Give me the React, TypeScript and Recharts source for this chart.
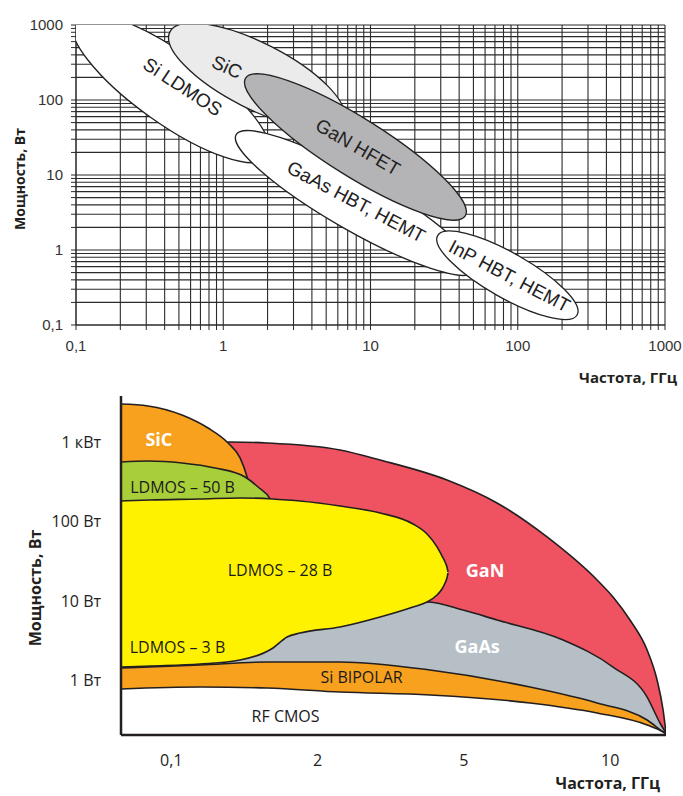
import React from "react"
import {
  ScatterChart,
  Scatter,
  ComposedChart,
  Area,
  XAxis,
  YAxis,
  CartesianGrid,
} from "recharts"

const INK = "#231f20"

// ---------- верхний график: области применения технологий (лог-лог) ----------
const decades = [0.1, 1, 10, 100, 1000]
const decadeLabels = ["0,1", "1", "10", "100", "1000"]
const steps = [1, 2, 3, 4, 5, 6, 7, 8, 9]
const logTicks = [
  ...decades.slice(0, -1).flatMap((d) => steps.map((k) => +(k * d).toPrecision(3))),
  1000,
]

// эллипс: центр, конец большой оси, конец малой оси, точка подписи (ГГц, Вт)
const siLdmos = [
  { x: 0.44, y: 145 },
  { x: 2.0, y: 17.5 },
  { x: 0.6, y: 360 },
  { x: 0.53, y: 150 },
]
const sic = [
  { x: 1.68, y: 209 },
  { x: 6.5, y: 54 },
  { x: 2.12, y: 515 },
  { x: 1.06, y: 275 },
]
const gaasHbt = [
  { x: 7.9, y: 4.24 },
  { x: 51, y: 0.52 },
  { x: 9.5, y: 9.1 },
  { x: 8.0, y: 4.4 },
]
const ganHfet = [
  { x: 7.9, y: 23.6 },
  { x: 44, y: 2.85 },
  { x: 10.1, y: 50 },
  { x: 8.2, y: 23.6 },
]
const inpHbt = [
  { x: 85, y: 0.46 },
  { x: 253, y: 0.136 },
  { x: 102, y: 0.83 },
  { x: 88, y: 0.45 },
]

// ---------- нижний график: схематичные области ----------
const bandTicks = [0, 1, 2, 3]
const bandFreqLabels = ["0,1", "2", "5", "10"]
const powerTicks = [0, 1, 2, 3] // lg(P, Вт)
const powerLabels = ["1 Вт", "10 Вт", "100 Вт", "1 кВт"]

const ganTop = [
  { x: -0.344, y: 2.967 },
  { x: 0.402, y: 3.005 },
  { x: 0.654, y: 2.993 },
  { x: 1.153, y: 2.904 },
  { x: 1.427, y: 2.778 },
  { x: 1.884, y: 2.526 },
  { x: 2.226, y: 2.237 },
  { x: 2.568, y: 1.809 },
  { x: 2.91, y: 1.267 },
  { x: 3.019, y: 1.053 },
  { x: 3.135, y: 0.763 },
  { x: 3.252, y: 0.385 },
  { x: 3.32, y: 0.008 },
  { x: 3.361, y: -0.37 },
  { x: 3.381, y: -0.66 },
]
const gaasTop = [
  { x: -0.344, y: 0.763 },
  { x: 0.88, y: 0.826 },
  { x: 1.563, y: 0.927 },
  { x: 1.748, y: 0.99 },
  { x: 1.994, y: 0.889 },
  { x: 2.226, y: 0.763 },
  { x: 2.678, y: 0.511 },
  { x: 3.019, y: 0.171 },
  { x: 3.252, y: -0.207 },
  { x: 3.34, y: -0.534 },
  { x: 3.381, y: -0.66 },
]
const sicTop = [
  { x: -0.344, y: 3.484 },
  { x: -0.159, y: 3.459 },
  { x: 0.073, y: 3.345 },
  { x: 0.251, y: 3.181 },
  { x: 0.388, y: 2.993 },
  { x: 0.47, y: 2.804 },
  { x: 0.518, y: 2.564 },
  { x: 0.545, y: 2.375 },
]
const ldmos50Top = [
  { x: -0.344, y: 2.753 },
  { x: -0.159, y: 2.766 },
  { x: 0.073, y: 2.741 },
  { x: 0.299, y: 2.678 },
  { x: 0.504, y: 2.564 },
  { x: 0.593, y: 2.438 },
  { x: 0.675, y: 2.287 },
  { x: 0.709, y: 2.149 },
]
// LDMOS 28 В и 3 В: нижняя и верхняя граница
const ldmosBand = [
  { x: -0.344, r: [0.171, 2.262] },
  { x: -0.146, r: [0.184, 2.275] },
  { x: 0.196, r: [0.209, 2.287] },
  { x: 0.47, r: [0.259, 2.3] },
  { x: 0.695, r: [0.411, 2.287] },
  { x: 0.791, r: [0.549, 2.275] },
  { x: 0.88, r: [0.599, 2.262] },
  { x: 1.153, r: [0.675, 2.199] },
  { x: 1.427, r: [0.801, 2.111] },
  { x: 1.652, r: [0.927, 1.972] },
  { x: 1.748, r: [0.99, 1.846] },
  { x: 1.816, r: [1.078, 1.683] },
  { x: 1.85, r: [1.154, 1.569] },
  { x: 1.871, r: [1.229, 1.494] },
  { x: 1.884, r: [1.292, 1.431] },
  { x: 1.891, r: [1.355, 1.368] },
]
const bipolarTop = [
  { x: -0.344, y: 0.159 },
  { x: 0.196, y: 0.196 },
  { x: 0.654, y: 0.234 },
  { x: 1.153, y: 0.234 },
  { x: 1.768, y: 0.133 },
  { x: 2.452, y: -0.081 },
  { x: 2.91, y: -0.282 },
  { x: 3.252, y: -0.496 },
  { x: 3.361, y: -0.647 },
  { x: 3.381, y: -0.673 },
]
const cmosTop = [
  { x: -0.344, y: -0.106 },
  { x: 0.196, y: -0.081 },
  { x: 0.654, y: -0.093 },
  { x: 1.153, y: -0.144 },
  { x: 1.768, y: -0.181 },
  { x: 2.452, y: -0.282 },
  { x: 2.91, y: -0.408 },
  { x: 3.252, y: -0.559 },
  { x: 3.361, y: -0.647 },
  { x: 3.381, y: -0.673 },
]
const whiteLabels = [
  { x: -0.085, y: 3.043, text: "SiC" },
  { x: 2.144, y: 1.393, text: "GaN" },
  { x: 2.09, y: 0.436, text: "GaAs" },
]
const darkLabels = [
  { x: 0.077, y: 2.438, text: "LDMOS – 50 В" },
  { x: 0.743, y: 1.393, text: "LDMOS – 28 В" },
  { x: 0.042, y: 0.423, text: "LDMOS – 3 В" },
  { x: 1.3, y: 0.045, text: "Si BIPOLAR" },
  { x: 0.781, y: -0.446, text: "RF CMOS" },
]

const logLabel = (v: number) => {
  const i = decades.findIndex((d) => Math.abs(d - v) < d * 1e-6)
  return i >= 0 ? decadeLabels[i] : ""
}

const noDot = () => <g />

// рисует эллипс по трём точкам, уже переведённым в пиксели шкалами графика
const ellipseLine = (label: string, fill: string) => (p: any) => {
  const [c, a, b, t] = p.points
  const rx = Math.hypot(a.x - c.x, a.y - c.y)
  const ry = Math.hypot(b.x - c.x, b.y - c.y)
  const ang = (Math.atan2(a.y - c.y, a.x - c.x) * 180) / Math.PI
  return (
    <g>
      <ellipse
        cx={c.x}
        cy={c.y}
        rx={rx}
        ry={ry}
        transform={`rotate(${ang} ${c.x} ${c.y})`}
        fill={fill}
        stroke="#222"
        strokeWidth={1.3}
      />
      <text
        x={t.x}
        y={t.y}
        transform={`rotate(${ang - 2} ${t.x} ${t.y})`}
        textAnchor="middle"
        dominantBaseline="central"
        fontFamily="Liberation Sans, Arial, sans-serif"
        fontSize={19}
        fill="#222"
      >
        {label}
      </text>
    </g>
  )
}

const whiteText = (p: any) => (
  <text
    x={p.cx}
    y={p.cy}
    textAnchor="middle"
    dominantBaseline="central"
    fontFamily="Open Sans, sans-serif"
    fontWeight={700}
    fontSize={18}
    fill="#fff"
  >
    {p.payload.text}
  </text>
)

const darkText = (p: any) => (
  <text
    x={p.cx}
    y={p.cy}
    textAnchor="middle"
    dominantBaseline="central"
    fontFamily="Open Sans, sans-serif"
    fontSize={16}
    fill="#1a1a1a"
  >
    {p.payload.text}
  </text>
)

const titleStyle: React.CSSProperties = {
  position: "absolute",
  whiteSpace: "nowrap",
  fontFamily: "Open Sans, sans-serif",
  fontWeight: 700,
  color: INK,
  lineHeight: 1,
}

const areaProps = {
  type: "monotone" as const,
  stroke: INK,
  strokeWidth: 1.6,
  fillOpacity: 1,
  baseValue: "dataMin" as const,
  dot: false,
  activeDot: false,
  isAnimationActive: false,
}

export default function App() {
  const xDomain = [-0.344, 3.381]
  const yDomain = [-0.685, 3.584]
  return (
    <div style={{ position: "absolute", left: 0, top: 0, width: 683, height: 796, background: "#fff" }}>
      <div style={{ position: "absolute", left: 0, top: 0 }}>
        <ScatterChart width={683} height={390} margin={{ top: 25, right: 18, bottom: 0, left: 0 }}>
          <CartesianGrid stroke="#2b2b2b" strokeWidth={1.1} />
          <XAxis
            dataKey="x"
            type="number"
            scale="log"
            domain={[0.1, 1000]}
            allowDataOverflow
            ticks={logTicks}
            interval={0}
            tickFormatter={logLabel}
            height={65}
            tickSize={5}
            tickMargin={10}
            tickLine={{ stroke: "#2b2b2b" }}
            axisLine={{ stroke: "#2b2b2b" }}
            tick={{ fontSize: 15, fill: "#333", fontFamily: "Liberation Sans, Arial, sans-serif" }}
          />
          <YAxis
            dataKey="y"
            type="number"
            scale="log"
            domain={[0.1, 1000]}
            allowDataOverflow
            ticks={logTicks}
            interval={0}
            tickFormatter={logLabel}
            width={76}
            tickSize={5}
            tickMargin={8}
            tickLine={{ stroke: "#2b2b2b" }}
            axisLine={{ stroke: "#2b2b2b" }}
            tick={{ fontSize: 15, fill: "#333", fontFamily: "Liberation Sans, Arial, sans-serif" }}
          />
          <Scatter data={siLdmos} line={ellipseLine("Si LDMOS", "#ffffff")} shape={noDot} isAnimationActive={false} />
          <Scatter data={sic} line={ellipseLine("SiC", "#ebebeb")} shape={noDot} isAnimationActive={false} />
          <Scatter data={gaasHbt} line={ellipseLine("GaAs HBT, HEMT", "#ffffff")} shape={noDot} isAnimationActive={false} />
          <Scatter data={ganHfet} line={ellipseLine("GaN HFET", "#b4b4b6")} shape={noDot} isAnimationActive={false} />
          <Scatter data={inpHbt} line={ellipseLine("InP HBT, HEMT", "#ffffff")} shape={noDot} isAnimationActive={false} />
        </ScatterChart>
      </div>
      <div style={{ ...titleStyle, left: 20, top: 179, fontSize: 14, transform: "translate(-50%, -50%) rotate(-90deg)" }}>
        Мощность, Вт
      </div>
      <div style={{ ...titleStyle, right: 6, top: 370, fontSize: 15 }}>Частота, ГГц</div>

      <div style={{ position: "absolute", left: 0, top: 390 }}>
        <ComposedChart width={683} height={406} margin={{ top: 6, right: 17, bottom: 0, left: 0 }}>
          <Area data={ganTop} dataKey="y" fill="#ef5361" {...areaProps} />
          <Area data={sicTop} dataKey="y" fill="#f7a11e" {...areaProps} />
          <Area data={ldmos50Top} dataKey="y" fill="#a8cf3a" {...areaProps} />
          <Area data={gaasTop} dataKey="y" fill="#b7bfc6" {...areaProps} />
          <Area data={ldmosBand} dataKey="r" fill="#fff200" {...areaProps} />
          <Area data={bipolarTop} dataKey="y" fill="#f7a11e" {...areaProps} />
          <Area data={cmosTop} dataKey="y" fill="#ffffff" {...areaProps} />
          <Scatter data={whiteLabels} shape={whiteText} isAnimationActive={false} />
          <Scatter data={darkLabels} shape={darkText} isAnimationActive={false} />
          <XAxis
            dataKey="x"
            type="number"
            domain={xDomain}
            allowDataOverflow
            ticks={bandTicks}
            interval={0}
            tickFormatter={(v: number) => bandFreqLabels[v] ?? ""}
            height={61}
            tickLine={false}
            tickMargin={14}
            axisLine={{ stroke: INK, strokeWidth: 2.5 }}
            tick={{ fontSize: 16, fill: "#222", fontFamily: "Open Sans, sans-serif" }}
          />
          <XAxis
            xAxisId="frame"
            orientation="top"
            type="number"
            domain={xDomain}
            allowDataOverflow
            height={0}
            tick={false}
            tickLine={false}
            axisLine={{ stroke: INK, strokeWidth: 2.5 }}
          />
          <YAxis
            dataKey="y"
            type="number"
            domain={yDomain}
            allowDataOverflow
            ticks={powerTicks}
            interval={0}
            tickFormatter={(v: number) => powerLabels[v] ?? ""}
            width={121}
            tickLine={false}
            tickMargin={14}
            axisLine={{ stroke: INK, strokeWidth: 2.5 }}
            tick={{ fontSize: 16, fill: "#222", fontFamily: "Open Sans, sans-serif" }}
          />
          <YAxis
            yAxisId="frame"
            orientation="right"
            type="number"
            domain={yDomain}
            allowDataOverflow
            width={0}
            tick={false}
            tickLine={false}
            axisLine={{ stroke: INK, strokeWidth: 2.5 }}
          />
        </ComposedChart>
      </div>
      <div style={{ ...titleStyle, left: 35, top: 588, fontSize: 16, transform: "translate(-50%, -50%) rotate(-90deg)" }}>
        Мощность, Вт
      </div>
      <div style={{ ...titleStyle, right: 23, top: 775, fontSize: 16 }}>Частота, ГГц</div>
    </div>
  )
}
